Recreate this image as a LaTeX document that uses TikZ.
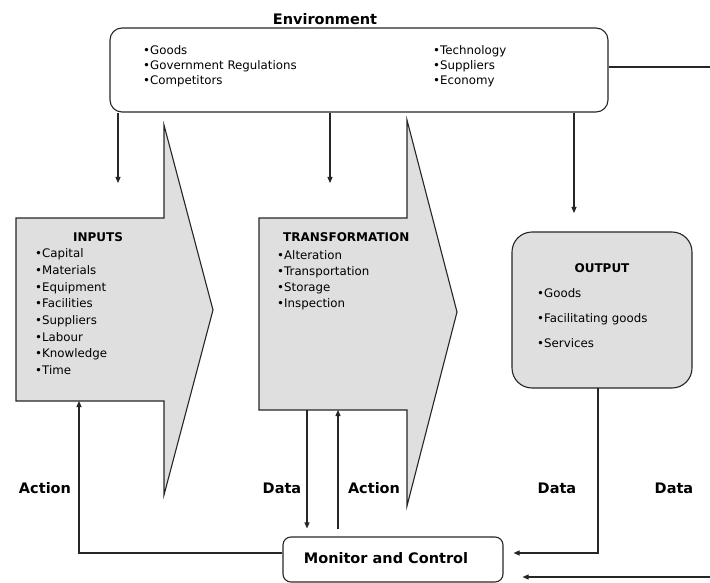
\documentclass[tikz,border=0pt]{standalone}
\usepackage{fontspec}
\setmainfont{DejaVu Sans}
\usetikzlibrary{arrows.meta}
\tikzset{
  ln/.style={line width=1.1pt, draw=black!85},
  bigarrow/.style={ln, fill=gray!25, line join=miter},
  conn/.style={ln, -{Triangle[length=6pt,width=5pt]}},
  item/.style={font=\fontsize{11.8}{14}\selectfont, anchor=west, inner sep=0pt, text height=8.5pt, text depth=2.5pt},
  boxtitle/.style={font=\bfseries\fontsize{12}{14}\selectfont, inner sep=0pt, text height=8.5pt, text depth=2.5pt},
  biglabel/.style={font=\bfseries\fontsize{14.5}{17}\selectfont, inner sep=0pt, text height=10.5pt, text depth=3pt},
}
\begin{document}
\begin{tikzpicture}[x=1pt,y=-1pt]
\useasboundingbox (0,0) rectangle (710,583);

% Environment
\node[biglabel] (envtitle) at (325,20.5) {Environment};
\node[ln, rounded corners=12pt, minimum width=498pt, minimum height=84pt, inner sep=0pt] (env) at (359,70) {};
\foreach \t [count=\i] in {Goods, Government Regulations, Competitors}
  \node[item] (el\i) at (143,37+15*\i) {•\t};
\foreach \t [count=\i] in {Technology, Suppliers, Economy}
  \node[item] (er\i) at (433,37+15*\i) {•\t};

% big arrows
\draw[bigarrow] (16,218) -- (164,218) -- (164,125) -- (213,310) -- (164,495) -- (164,401) -- (16,401) -- cycle;
\draw[bigarrow] (259,218) -- (407,218) -- (407,120) -- (457,312) -- (407,506) -- (407,410) -- (259,410) -- cycle;

\node[boxtitle] (intitle) at (98,238) {INPUTS};
\foreach \t [count=\i] in {Capital, Materials, Equipment, Facilities, Suppliers, Labour, Knowledge, Time}
  \node[item] (in\i) at (35,238.4+16.6*\i) {•\t};

\node[boxtitle, anchor=west] (trtitle) at (283,238) {TRANSFORMATION};
\foreach \t [count=\i] in {Alteration, Transportation, Storage, Inspection}
  \node[item] (tr\i) at (277,240+16*\i) {•\t};

% Output
\node[ln, fill=gray!25, rounded corners=20pt, minimum width=180pt, minimum height=156pt, inner sep=0pt] (out) at (602,310) {};
\node[boxtitle] (outtitle) at (602,269) {OUTPUT};
\foreach \t [count=\i] in {Goods, Facilitating goods, Services}
  \node[item] (ou\i) at (537,269+25*\i) {•\t};

% Monitor and control
\node[ln, rounded corners=8pt, minimum width=220pt, minimum height=45pt, inner sep=0pt] (mc) at (393,559.5) {};
\node[biglabel] (mctext) at (386,560) {Monitor and Control};

% labels
\node[biglabel] (act1) at (45,490) {Action};
\node[biglabel] (dat1) at (282,490) {Data};
\node[biglabel] (act2) at (374,490) {Action};
\node[biglabel] (dat2) at (557,490) {Data};
\node[biglabel] (dat3) at (674,490) {Data};

% free ends
\coordinate (e1) at (118,183);
\coordinate (e2) at (330,183);
\coordinate (e3) at (574,213);
\coordinate (edgeA) at (710,67);
\coordinate (edgeB) at (710,577);
\coordinate (inbot) at (79,401);
\coordinate (trA) at (307,410);
\coordinate (trB) at (338,410);
\coordinate (outdrop) at (598,388);

% connectors
\draw[conn] (e1 |- env.south) -- (e1);
\draw[conn] (e2 |- env.south) -- (e2);
\draw[conn] (e3 |- env.south) -- (e3);
\draw[ln] (env.east |- edgeA) -- (edgeA);
\draw[conn] ([yshift=6.5pt]mc.west) -| (inbot);
\draw[conn, shorten >=8pt] (trA) -- (trA |- mc.north);
\draw[conn, shorten <=7pt] (trB |- mc.north) -- (trB);
\draw[conn, shorten >=10pt] (outdrop) |- ([yshift=6.5pt]mc.east);
\draw[conn, shorten >=19pt] (edgeB) -- (edgeB -| mc.east);
\end{tikzpicture}
\end{document}
